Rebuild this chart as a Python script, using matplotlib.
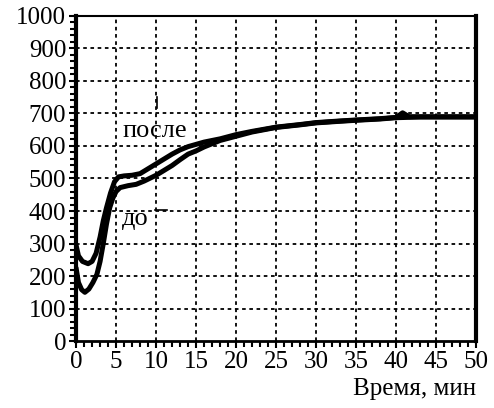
import numpy as np
import matplotlib
matplotlib.use("Agg")
import matplotlib.pyplot as plt
from matplotlib.ticker import MultipleLocator

plt.rcParams['font.family'] = ['Liberation Serif']

# time, min
t_posle = [0, 0.3, 0.8, 1.5, 2.0, 2.5, 3.0, 3.4, 3.8, 4.3, 4.8, 5.3, 6, 7, 8, 9, 10, 11, 12, 13, 14,
           15, 16, 18, 20, 22, 25, 28, 30, 33, 35, 38, 40, 40.8, 41.6, 43, 45, 48, 50]
posle = [295, 262, 245, 238, 245, 270, 320, 370, 410, 455, 490, 505, 508, 510, 515, 530, 545, 560, 575, 588, 598,
         605, 612, 622, 635, 645, 658, 666, 672, 677, 680, 684, 688, 702, 690, 690, 690, 690, 690]

t_do = [0, 0.3, 0.7, 1.1, 1.6, 2.1, 2.6, 3.0, 3.4, 3.8, 4.2, 4.6, 5.0, 5.5, 6.5, 7.5, 8.5, 10, 11, 12, 13, 14,
        15, 16, 17, 18, 20, 22, 25, 28, 30, 33, 35, 38, 40, 43, 45, 48, 50]
do = [225, 180, 158, 150, 160, 180, 205, 245, 300, 360, 410, 440, 460, 472, 478, 482, 492, 510, 525, 540, 558, 575,
      585, 597, 607, 617, 630, 643, 657, 665, 671, 676, 679, 683, 687, 689, 689, 689, 689]

fig = plt.figure(figsize=(4.94, 4.08), dpi=100)
ax = fig.add_axes([0.154, 0.164, 0.81, 0.797])

ax.plot(t_posle, posle, color='black', lw=3.6, solid_capstyle='round', solid_joinstyle='round', zorder=3)
ax.plot(t_do, do, color='black', lw=3.6, solid_capstyle='round', solid_joinstyle='round', zorder=3)

ax.set_xlim(0, 50)
ax.set_ylim(0, 1000)
ax.set_xticks(range(0, 51, 5))
ax.set_xticks(range(0, 51, 1), minor=True)
ax.set_yticks(range(0, 1001, 100))
ax.set_yticks(range(0, 1001, 20), minor=True)

ax.spines['left'].set_linewidth(3)
ax.spines['right'].set_linewidth(3)
ax.spines['bottom'].set_linewidth(2)
ax.spines['top'].set_linewidth(1.5)

ax.tick_params(which='major', direction='out', length=5, width=1.5, labelsize=18, pad=2)
ax.tick_params(which='minor', direction='out', length=4, width=1.5)

# grid: short dashes drawn as separate segments
for xv in range(5, 50, 5):
    ax.plot([xv, xv], [0, 1000], color='black', lw=1.3, ls=(0, (2, 2)), zorder=1)
for yv in range(100, 1000, 100):
    ax.plot([0, 50], [yv, yv], color='black', lw=1.3, ls=(0, (2, 2)), zorder=1)

ax.text(5.75, 628, 'после', fontsize=19, va='baseline', ha='left')
ax.text(5.75, 357, 'до', fontsize=19, va='baseline', ha='left')
ax.plot([10.1, 10.1], [718, 751], color='black', lw=1.2)
ax.plot([9.9, 11.4], [403, 403], color='black', lw=1.2)

ax.set_xlabel('Время, мин', fontsize=18, loc='right', labelpad=4)

fig.savefig('out.png', dpi=100)
